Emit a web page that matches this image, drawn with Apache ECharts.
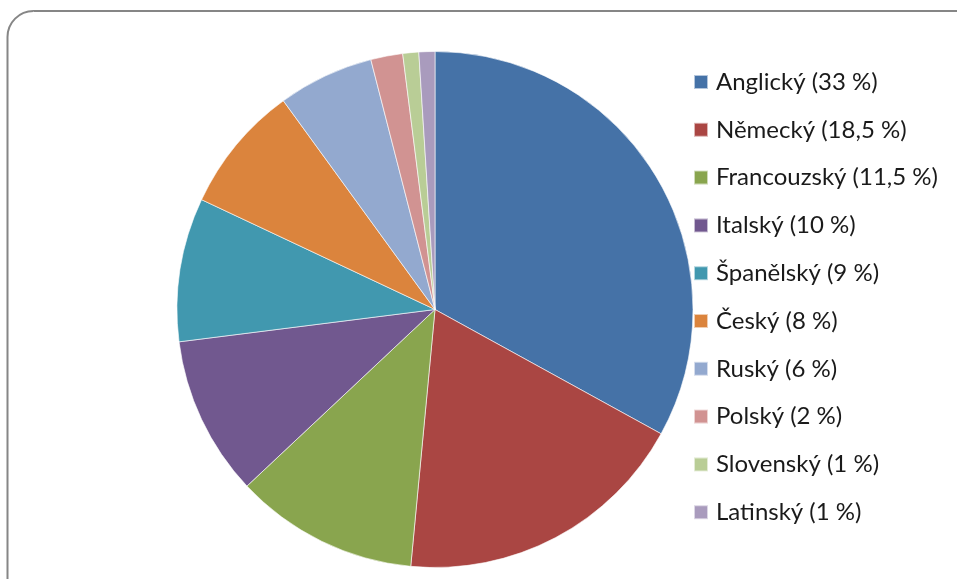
<!DOCTYPE html>
<html>
<head>
<meta charset="utf-8">
<script src="https://cdn.jsdelivr.net/npm/echarts@6/dist/echarts.min.js"></script>
<style>
  html, body { margin: 0; padding: 0; background: #fff; }
  #chart { width: 957px; height: 579px; }
</style>
</head>
<body>
<div id="chart"></div>
<script>
  // Jazyky a jejich podíl (%)
  var languages = ['Anglický', 'Německý', 'Francouzský', 'Italský', 'Španělský', 'Český', 'Ruský', 'Polský', 'Slovenský', 'Latinský'];
  var shares = [33, 18.5, 11.5, 10, 9, 8, 6, 2, 1, 1];
  var colors = ['#4572A7', '#AA4643', '#89A54E', '#71588F', '#4198AF', '#DB843D', '#93A9CF', '#D19392', '#B9CD96', '#A99BBD'];

  function fmt(v) { return String(v).replace('.', ','); }

  var chart = echarts.init(document.getElementById('chart'), null, { renderer: 'canvas' });
  chart.setOption({
    animation: false,
    graphic: [{
      type: 'rect',
      shape: { x: 7.5, y: 11, width: 980, height: 600, r: 26 },
      style: { fill: 'none', stroke: '#868686', lineWidth: 2 },
      silent: true
    }],
    legend: {
      orient: 'vertical',
      left: 693,
      top: 70,
      padding: 0,
      itemWidth: 14,
      itemHeight: 14,
      itemGap: 23.8,
      icon: 'rect',
      textStyle: { fontFamily: 'Lato', fontSize: 24, color: '#1a1a1a', lineHeight: 24, padding: [0, 0, 0, 3] },
      formatter: function (name) {
        var i = languages.indexOf(name);
        return name + ' (' + fmt(shares[i]) + ' %)';
      },
      data: languages
    },
    series: [{
      type: 'pie',
      center: [435, 309.5],
      radius: [0, 258],
      startAngle: 90,
      clockwise: true,
      label: { show: false },
      labelLine: { show: false },
      itemStyle: { borderColor: 'rgba(255,255,255,0.6)', borderWidth: 1 },
      data: languages.map(function (n, i) {
        return { name: n, value: shares[i], itemStyle: { color: colors[i] } };
      })
    }]
  });
</script>
</body>
</html>
